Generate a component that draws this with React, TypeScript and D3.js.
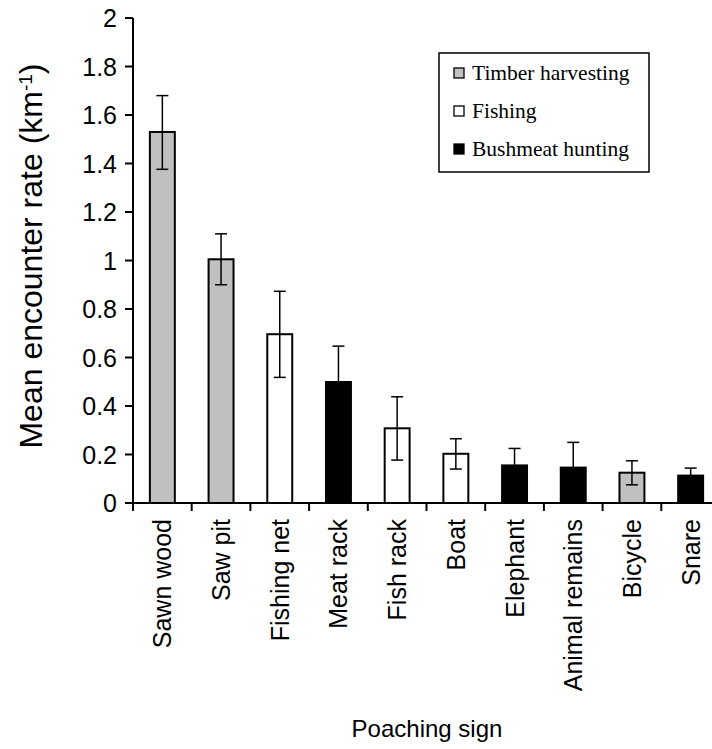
import React from "react";
import * as d3 from "d3";

const categories = ["Sawn wood", "Saw pit", "Fishing net", "Meat rack", "Fish rack", "Boat", "Elephant", "Animal remains", "Bicycle", "Snare"];
const groups = ["Timber", "Timber", "Fishing", "Bushmeat", "Fishing", "Fishing", "Bushmeat", "Bushmeat", "Timber", "Bushmeat"];
const means = [1.53, 1.005, 0.696, 0.499, 0.308, 0.203, 0.155, 0.146, 0.125, 0.113];
const upper = [1.68, 1.11, 0.873, 0.647, 0.438, 0.265, 0.225, 0.25, 0.174, 0.144];
const lower = [1.376, 0.9, 0.518, 0.351, 0.177, 0.14, 0.085, 0.042, 0.075, 0.082];
const yTicks = [0, 0.2, 0.4, 0.6, 0.8, 1, 1.2, 1.4, 1.6, 1.8, 2];
const legendLabels = ["Timber harvesting", "Fishing", "Bushmeat hunting"];
const legendGroups = ["Timber", "Fishing", "Bushmeat"];
const fills: Record<string, string> = { Timber: "#c0c0c0", Fishing: "#ffffff", Bushmeat: "#000000" };

export default function App() {
  const W = 712, H = 749;
  const y = d3.scaleLinear().domain([0, 2]).range([503, 18]);
  const x = d3.scaleBand().domain(categories).range([133, 720]).paddingInner(0.575).paddingOuter(0.2875);
  const sans = "Arial, 'Liberation Sans', sans-serif";
  const serif = "'Times New Roman', 'Liberation Serif', serif";
  const bw = x.bandwidth();
  const step = x.step();
  const x0 = 133;
  const capW = 12;
  return (
    <svg width={W} height={H} style={{ position: "absolute", left: 0, top: 0, background: "#fff" }}>
      {categories.map((c, i) => (
        <rect key={c} x={x(c)!} y={y(means[i])} width={bw} height={y(0) - y(means[i])}
          fill={fills[groups[i]]} stroke="#000" strokeWidth={2} />
      ))}
      {categories.map((c, i) => {
        const cx = x(c)! + bw / 2;
        return (
          <g key={c + "e"} stroke="#000" strokeWidth={1.5}>
            <line x1={cx} x2={cx} y1={y(upper[i])} y2={y(lower[i])} />
            <line x1={cx - capW / 2} x2={cx + capW / 2} y1={y(upper[i])} y2={y(upper[i])} />
            <line x1={cx - capW / 2} x2={cx + capW / 2} y1={y(lower[i])} y2={y(lower[i])} />
          </g>
        );
      })}
      <line x1={x0} x2={x0} y1={y(2)} y2={y(0)} stroke="#000" strokeWidth={2} />
      {yTicks.map((t) => (
        <g key={t}>
          <line x1={x0 - 8} x2={x0} y1={y(t)} y2={y(t)} stroke="#000" strokeWidth={2} />
          <text x={x0 - 16} y={y(t)} dy="0.36em" textAnchor="end" fontFamily={sans} fontSize={25}>{String(t)}</text>
        </g>
      ))}
      <line x1={x0 - 1} x2={720} y1={y(0)} y2={y(0)} stroke="#000" strokeWidth={2} />
      {d3.range(0, categories.length + 1).map((k) => (
        <line key={k} x1={x0 + k * step} x2={x0 + k * step} y1={y(0)} y2={y(0) + 8} stroke="#000" strokeWidth={2} />
      ))}
      {categories.map((c) => {
        const cx = x(c)! + bw / 2;
        return (
          <text key={c + "l"} transform={`translate(${cx},${519}) rotate(-90)`} textAnchor="end" dy="0.36em"
            fontFamily={sans} fontSize={25}>{c}</text>
        );
      })}
      <text x={427} y={737} textAnchor="middle" fontFamily={sans} fontSize={24}>Poaching sign</text>
      <text transform={`translate(42,256) rotate(-90)`} textAnchor="middle" fontFamily={sans} fontSize={32}>
        Mean encounter rate (km<tspan dy="-10" fontSize={19}>-1</tspan><tspan dy="10">)</tspan>
      </text>
      <rect x={439} y={53} width={210} height={119} fill="#fff" stroke="#000" strokeWidth={1.5} />
      {legendLabels.map((l, i) => {
        const cy = 73 + i * 38;
        return (
          <g key={l}>
            <rect x={454} y={cy - 5} width={10} height={10} fill={fills[legendGroups[i]]} stroke="#000" strokeWidth={1.3} />
            <text x={472} y={cy} dy="0.33em" fontFamily={serif} fontSize={21.5}>{l}</text>
          </g>
        );
      })}
    </svg>
  );
}
